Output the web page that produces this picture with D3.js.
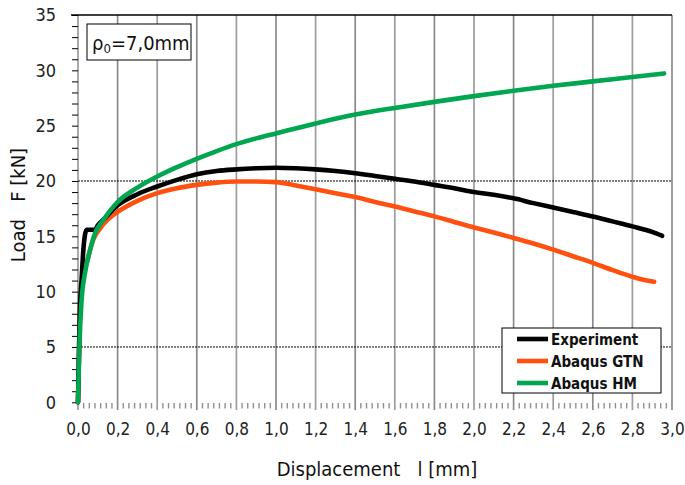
<!DOCTYPE html>
<html>
<head>
<meta charset="utf-8">
<script src="https://cdn.jsdelivr.net/npm/d3@7"></script>
<style>
  html, body { margin: 0; padding: 0; background: #fff; }
  svg { display: block; font-family: "DejaVu Sans Condensed", "DejaVu Sans", sans-serif; }
</style>
</head>
<body>
<svg id="chart" width="685" height="485"></svg>
<script>
// Load–displacement curves, notched specimen rho0 = 7.0 mm
const seriesNames = ["Experiment", "Abaqus GTN", "Abaqus HM"];
const seriesColors = ["#000000", "#ff5010", "#00a650"];

const expDisp = [0, 0.005, 0.01, 0.018, 0.027, 0.035, 0.044, 0.086, 0.1, 0.128, 0.2, 0.3, 0.4, 0.5, 0.6, 0.7, 0.8, 0.9, 1.0, 1.1, 1.2, 1.3, 1.4, 1.5, 1.6, 1.7, 1.8, 1.9, 2.0, 2.1, 2.2, 2.3, 2.4, 2.5, 2.6, 2.7, 2.8, 2.9, 2.95];
const expLoad = [0, 4.5, 8.6, 11.05, 13.76, 15.1, 15.6, 15.6, 16.0, 16.5, 17.8, 18.8, 19.5, 20.1, 20.6, 20.9, 21.05, 21.15, 21.2, 21.15, 21.05, 20.9, 20.7, 20.45, 20.2, 19.95, 19.65, 19.35, 19.0, 18.75, 18.43, 18.0, 17.6, 17.2, 16.8, 16.35, 15.9, 15.4, 15.05];

const gtnDisp = [0, 0.005, 0.01, 0.018, 0.03, 0.044, 0.06, 0.077, 0.111, 0.15, 0.2, 0.3, 0.4, 0.5, 0.6, 0.7, 0.8, 0.9, 1.0, 1.1, 1.2, 1.3, 1.4, 1.5, 1.6, 1.7, 1.8, 1.9, 2.0, 2.1, 2.2, 2.3, 2.4, 2.5, 2.6, 2.7, 2.8, 2.86, 2.91];
const gtnLoad = [0, 4.5, 8.0, 10.4, 11.7, 12.6, 13.7, 14.7, 15.7, 16.5, 17.2, 18.2, 18.9, 19.35, 19.65, 19.85, 19.95, 19.95, 19.9, 19.6, 19.25, 18.9, 18.55, 18.1, 17.7, 17.25, 16.8, 16.3, 15.8, 15.35, 14.85, 14.35, 13.8, 13.2, 12.6, 11.95, 11.35, 11.05, 10.9];

const hmDisp = [0, 0.007, 0.018, 0.035, 0.061, 0.086, 0.128, 0.2, 0.3, 0.4, 0.5, 0.6, 0.7, 0.8, 0.9, 1.0, 1.2, 1.4, 1.6, 1.8, 2.0, 2.2, 2.4, 2.6, 2.8, 2.96];
const hmLoad = [0, 5.0, 9.2, 11.65, 13.76, 15.27, 16.47, 18.1, 19.4, 20.4, 21.25, 22.0, 22.7, 23.33, 23.85, 24.3, 25.2, 26.0, 26.6, 27.15, 27.67, 28.15, 28.6, 29.0, 29.4, 29.72];

const xTicks = [0, 0.2, 0.4, 0.6, 0.8, 1.0, 1.2, 1.4, 1.6, 1.8, 2.0, 2.2, 2.4, 2.6, 2.8, 3.0];
const yTicks = [0, 5, 10, 15, 20, 25, 30, 35];
const yDottedLines = [5, 20];

const svg = d3.select("#chart");
const x = d3.scaleLinear().domain([0, 3]).range([78, 672]);
const y = d3.scaleLinear().domain([0, 35]).range([402.3, 15]);
const fmt = v => d3.format(".1f")(v).replace(".", ",");

// vertical grid
svg.append("g").selectAll("line").data(xTicks).join("line")
  .attr("x1", d => x(d)).attr("x2", d => x(d))
  .attr("y1", y(35)).attr("y2", 410)
  .attr("stroke", (d, i) => i % 2 ? "#8a8a8a" : "#9c9c9c")
  .attr("stroke-width", 1.7);

// minor ticks along the bottom
const minor = [];
for (let i = 0; i < 15; i++) for (let k = 1; k < 7; k++) minor.push(xTicks[i] + k * 0.2 / 7);
svg.append("g").selectAll("line").data(minor).join("line")
  .attr("x1", d => x(d)).attr("x2", d => x(d))
  .attr("y1", 403).attr("y2", 408.5)
  .attr("stroke", "#8f8f8f").attr("stroke-width", 1.4);

// dotted horizontal reference lines
svg.append("g").selectAll("line").data(yDottedLines).join("line")
  .attr("x1", x(0)).attr("x2", x(3))
  .attr("y1", d => y(d)).attr("y2", d => y(d))
  .attr("stroke", "#000").attr("stroke-width", 1)
  .attr("stroke-dasharray", "2,1");

// top border
svg.append("line").attr("x1", 71).attr("x2", x(3)).attr("y1", y(35)).attr("y2", y(35))
  .attr("stroke", "#000").attr("stroke-width", 1.3);

// y axis ticks (every 1 kN)
const yAxis = d3.axisLeft(y).tickValues(d3.range(0, 36, 1)).tickSize(6)
  .tickFormat(d => (d % 5 === 0 ? d : ""));
const gy = svg.append("g").attr("transform", `translate(${x(0)},0)`).call(yAxis);
gy.select(".domain").remove();
gy.selectAll(".tick line").attr("stroke", "#000").attr("stroke-width", 1);
gy.selectAll(".tick text").attr("x", -22).attr("font-size", 18).attr("fill", "#222")
  .attr("font-family", "DejaVu Sans Condensed");

// x tick labels
const xAxis = d3.axisBottom(x).tickValues(xTicks).tickSize(0).tickFormat(fmt);
const gx = svg.append("g").attr("transform", "translate(0,420)").call(xAxis);
gx.select(".domain").remove();
gx.selectAll(".tick text").attr("font-size", 17).attr("fill", "#222")
  .attr("font-family", "DejaVu Sans Condensed");

// curves
const line = d3.line().x(d => x(d[0])).y(d => y(d[1])).curve(d3.curveMonotoneX);
const curves = [
  { name: seriesNames[1], color: seriesColors[1], pts: d3.zip(gtnDisp, gtnLoad) },
  { name: seriesNames[0], color: seriesColors[0], pts: d3.zip(expDisp, expLoad) },
  { name: seriesNames[2], color: seriesColors[2], pts: d3.zip(hmDisp, hmLoad) }
];
svg.append("g").selectAll("path").data(curves).join("path")
  .attr("d", d => line(d.pts))
  .attr("fill", "none")
  .attr("stroke", d => d.color)
  .attr("stroke-width", 4.6)
  .attr("stroke-linecap", "round")
  .attr("stroke-linejoin", "round");

// axis titles
svg.append("text").attr("x", 377).attr("y", 476).attr("text-anchor", "middle")
  .attr("font-size", 20).attr("fill", "#111").attr("xml:space", "preserve")
  .text("Displacement   l [mm]");
svg.append("text").attr("transform", "translate(25,205) rotate(-90)")
  .attr("text-anchor", "middle").attr("font-size", 20).attr("fill", "#111")
  .attr("xml:space", "preserve")
  .text("Load   F [kN]");

// annotation box
const ann = svg.append("g");
ann.append("rect").attr("x", 87).attr("y", 24).attr("width", 104).attr("height", 36)
  .attr("fill", "#fff").attr("stroke", "#000").attr("stroke-width", 1);
const at = ann.append("text").attr("x", 92).attr("y", 50).attr("font-size", 20).attr("fill", "#111");
at.append("tspan").text("ρ");
at.append("tspan").attr("font-size", 13).attr("dy", 3).text("0");
at.append("tspan").attr("dy", -3).text("=7,0mm");

// legend
const leg = svg.append("g");
leg.append("rect").attr("x", 502).attr("y", 328).attr("width", 159).attr("height", 65)
  .attr("fill", "#fff").attr("stroke", "#000").attr("stroke-width", 1);
const legRows = leg.selectAll("g").data(seriesNames).join("g")
  .attr("transform", (d, i) => `translate(0,${339 + i * 22})`);
legRows.append("line").attr("x1", 517).attr("x2", 548).attr("y1", 0).attr("y2", 0)
  .attr("stroke", (d, i) => seriesColors[i]).attr("stroke-width", 4.6);
legRows.append("text").attr("x", 551).attr("y", 6).attr("font-size", 15)
  .attr("font-weight", "bold").attr("fill", "#111").text(d => d);
</script>
</body>
</html>
